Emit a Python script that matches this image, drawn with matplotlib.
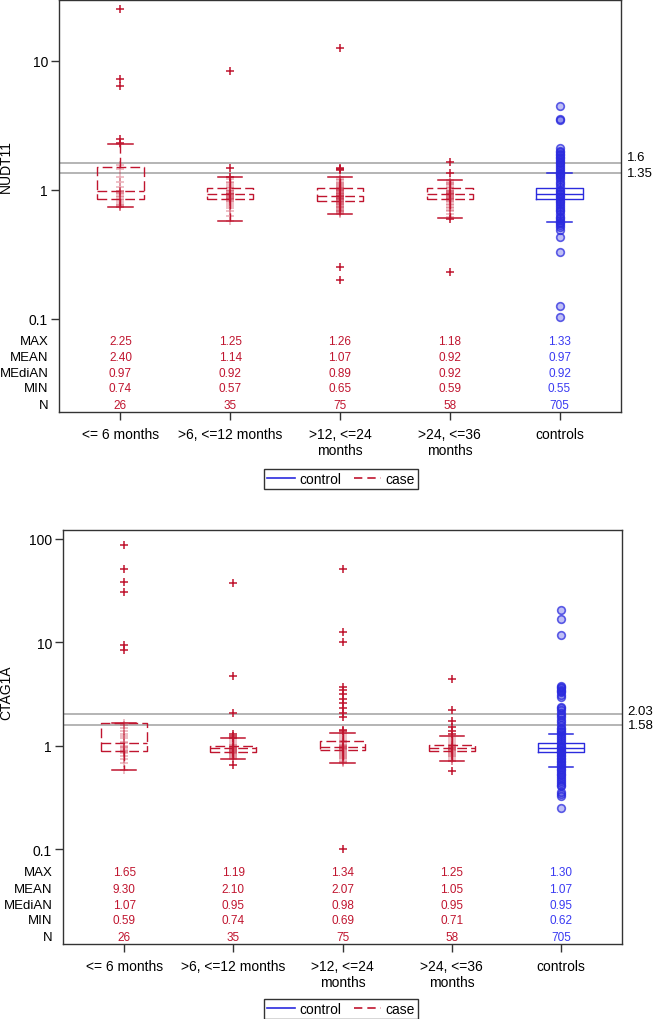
# ======================================
# BOX PLOTS - NUDT11 / CTAG1A by time to diagnosis
# ======================================

import numpy as np
import matplotlib

matplotlib.use("Agg")

import matplotlib.pyplot as plt
from matplotlib.lines import Line2D
from matplotlib.transforms import blended_transform_factory

plt.rcParams["font.family"] = ["Liberation Sans", "DejaVu Sans"]


# ======================================
# DATA
# ======================================

categories = ["<= 6 months", ">6, <=12 months", ">12, <=24\nmonths",
              ">24, <=36\nmonths", "controls"]
stat_names = ["MAX", "MEAN", "MEdiAN", "MIN", "N"]

# --- NUDT11 ---
nudt_g1 = [25.0, 7.2, 6.3, 2.45, 2.3, 2.25, 1.55, 1.45, 1.25, 1.15, 1.05, 0.98,
           0.97, 0.96, 0.94, 0.92, 0.9, 0.88, 0.85, 0.83, 0.8, 0.78, 0.76, 0.75,
           0.74, 0.74]
nudt_g2 = [8.3, 1.48, 1.26, 1.25, 1.2, 1.15, 1.12, 1.08, 1.05, 1.03, 1.0, 0.98,
           0.97, 0.95, 0.94, 0.93, 0.92, 0.92, 0.91, 0.9, 0.89, 0.88, 0.87, 0.86,
           0.85, 0.84, 0.83, 0.82, 0.8, 0.78, 0.75, 0.72, 0.68, 0.63, 0.57]
nudt_g3 = [12.4, 1.46, 1.45, 1.44, 1.43, 1.26, 1.22, 1.18, 1.15, 1.12, 1.1, 1.08,
           1.06, 1.05, 1.04, 1.03, 1.02, 1.01, 1.0, 0.99, 0.98, 0.97, 0.96, 0.95,
           0.94, 0.93, 0.92, 0.91, 0.9, 0.9, 0.89, 0.89, 0.88, 0.88, 0.87, 0.86,
           0.85, 0.85, 0.84, 0.83, 0.82, 0.82, 0.81, 0.8, 0.79, 0.78, 0.77, 0.76,
           0.75, 0.74, 0.73, 0.72, 0.71, 0.7, 0.69, 0.68, 0.67, 0.66, 0.65,
           0.25, 0.2]
nudt_g4 = [1.65, 1.35, 1.18, 1.15, 1.12, 1.1, 1.08, 1.05, 1.03, 1.0, 0.98, 0.97,
           0.96, 0.95, 0.94, 0.93, 0.92, 0.92, 0.91, 0.9, 0.89, 0.88, 0.87, 0.86,
           0.85, 0.84, 0.83, 0.82, 0.8, 0.78, 0.76, 0.74, 0.72, 0.7, 0.68, 0.65,
           0.62, 0.59, 0.23]
nudt_ctrl = [4.45, 3.55, 3.45, 2.1, 2.0, 1.95, 1.9, 1.85, 1.8, 1.75, 1.7, 1.65,
             1.6, 1.55, 1.5, 1.45, 1.4, 1.35, 1.33, 1.3, 1.25, 1.2, 1.15, 1.1,
             1.05, 1.0, 0.97, 0.95, 0.92, 0.9, 0.88, 0.85, 0.82, 0.8, 0.77, 0.75,
             0.72, 0.7, 0.68, 0.65, 0.62, 0.6, 0.58, 0.56, 0.55, 0.53, 0.51, 0.49,
             0.43, 0.33, 0.125, 0.104]

# box stats: (whisker low, q1, median, q3, whisker high)
nudt_box = [(0.74, 0.84, 0.97, 1.50, 2.25),
            (0.57, 0.84, 0.92, 1.04, 1.25),
            (0.65, 0.82, 0.89, 1.04, 1.26),
            (0.60, 0.85, 0.92, 1.03, 1.18),
            (0.56, 0.85, 0.92, 1.04, 1.34)]

nudt_max = [2.25, 1.25, 1.26, 1.18, 1.33]
nudt_mean = [2.40, 1.14, 1.07, 0.92, 0.97]
nudt_median = [0.97, 0.92, 0.89, 0.92, 0.92]
nudt_min = [0.74, 0.57, 0.65, 0.59, 0.55]
nudt_n = [26, 35, 75, 58, 705]
nudt_refs = [1.6, 1.35]

# --- CTAG1A ---
ctag_g1 = [88.0, 51.0, 38.5, 31.0, 9.5, 8.4, 1.65, 1.6, 1.5, 1.4, 1.3, 1.25, 1.2,
           1.1, 1.07, 1.0, 0.97, 0.95, 0.92, 0.9, 0.88, 0.85, 0.8, 0.75, 0.68, 0.59]
ctag_g2 = [37.5, 4.75, 2.08, 1.3, 1.25, 1.2, 1.19, 1.15, 1.1, 1.05, 1.02, 1.0,
           0.98, 0.97, 0.96, 0.95, 0.94, 0.93, 0.92, 0.91, 0.9, 0.89, 0.88, 0.87,
           0.86, 0.85, 0.84, 0.82, 0.8, 0.78, 0.76, 0.74, 0.66]
ctag_g3 = [51.0, 12.7, 10.0, 3.75, 3.5, 3.2, 2.85, 2.6, 2.35, 2.1, 1.9, 1.44, 1.38,
           1.34, 1.3, 1.25, 1.2, 1.15, 1.12, 1.1, 1.08, 1.05, 1.03, 1.0, 0.99,
           0.98, 0.97, 0.96, 0.95, 0.94, 0.93, 0.92, 0.9, 0.88, 0.86, 0.84, 0.82,
           0.8, 0.78, 0.76, 0.74, 0.72, 0.7, 0.69, 0.1]
ctag_g4 = [4.45, 2.22, 1.76, 1.53, 1.4, 1.3, 1.25, 1.2, 1.15, 1.1, 1.05, 1.03, 1.0,
           0.98, 0.97, 0.96, 0.95, 0.94, 0.93, 0.92, 0.91, 0.9, 0.88, 0.86, 0.84,
           0.82, 0.8, 0.78, 0.75, 0.72, 0.71, 0.57]
ctag_ctrl = [20.5, 16.9, 11.8, 3.8, 3.7, 3.6, 3.5, 3.4, 3.3, 3.1, 2.97, 2.4, 2.3,
             2.2, 2.1, 2.0, 1.9, 1.8, 1.7, 1.6, 1.5, 1.45, 1.4, 1.35, 1.3, 1.25,
             1.2, 1.15, 1.1, 1.05, 1.0, 0.97, 0.95, 0.92, 0.9, 0.87, 0.85, 0.82,
             0.8, 0.77, 0.75, 0.72, 0.7, 0.67, 0.65, 0.62, 0.6, 0.58, 0.56, 0.54,
             0.52, 0.5, 0.48, 0.46, 0.44, 0.42, 0.41, 0.36, 0.34, 0.33, 0.25]

ctag_box = [(0.59, 0.90, 1.07, 1.65, 1.65),
            (0.74, 0.88, 0.95, 1.00, 1.19),
            (0.69, 0.92, 0.98, 1.12, 1.34),
            (0.71, 0.90, 0.95, 1.02, 1.25),
            (0.63, 0.88, 0.95, 1.07, 1.30)]

ctag_max = [1.65, 1.19, 1.34, 1.25, 1.30]
ctag_mean = [9.30, 2.10, 2.07, 1.05, 1.07]
ctag_median = [1.07, 0.95, 0.98, 0.95, 0.95]
ctag_min = [0.59, 0.74, 0.69, 0.71, 0.62]
ctag_n = [26, 35, 75, 58, 705]
ctag_refs = [2.03, 1.58]


# ======================================
# STYLE
# ======================================

RED = "#C0152F"
BLUE = "#2B2BDE"
BLUE_TXT = "#3A3AF2"
GREY = "#A8A8A8"
FRAME = "#333333"
DASH = (0, (7, 3))


def draw_panel(ax, groups, boxes, stats, refs, ref_dy, ylim, yticks, yticklabels):
    pos = np.arange(1, 6)

    # reference lines
    for r, dy in zip(refs, ref_dy):
        ax.axhline(r, color=GREY, lw=1.2, zorder=1)
        ax.annotate(f"{r:g}", xy=(1, r), xycoords=("axes fraction", "data"),
                    xytext=(4, dy), textcoords="offset points",
                    va="center", ha="left", fontsize=9.5, annotation_clip=False)

    # boxes
    bstats = [dict(whislo=b[0], q1=b[1], med=b[2], q3=b[3], whishi=b[4])
              for b in boxes]
    ax.bxp(bstats[:4], positions=pos[:4], widths=0.42, capwidths=0.22,
           showfliers=False, manage_ticks=False,
           boxprops=dict(color=RED, lw=1, linestyle=DASH),
           whiskerprops=dict(color=RED, lw=1, linestyle=DASH),
           capprops=dict(color=RED, lw=1.1),
           medianprops=dict(color=RED, lw=1, linestyle=DASH), zorder=3)
    ax.bxp(bstats[4:], positions=pos[4:], widths=0.42, capwidths=0.22,
           showfliers=False, manage_ticks=False,
           boxprops=dict(color=BLUE, lw=1),
           whiskerprops=dict(color=BLUE, lw=1),
           capprops=dict(color=BLUE, lw=1.1),
           medianprops=dict(color=BLUE, lw=1), zorder=3)

    # points
    for i, vals in enumerate(groups):
        v = np.array(vals)
        lo, hi = boxes[i][0], boxes[i][4]
        out = (v < lo * 0.999) | (v > hi * 1.001)
        x = np.full(len(v), pos[i], dtype=float)
        if i < 4:
            ax.plot(x[~out], v[~out], "+", color=RED, ms=6, mew=1.1,
                    alpha=0.35, zorder=4)
            ax.plot(x[out], v[out], "+", color=RED, ms=6, mew=1.1, zorder=4)
        else:
            ax.plot(x, v, "o", ms=5.5, mew=1.2, mec=(0.17, 0.17, 0.87, 0.75),
                    mfc=(0.17, 0.17, 0.87, 0.3), ls="none", zorder=4)

    ax.set_yscale("log")
    ax.set_ylim(*ylim)
    ax.set_xlim(0.44, 5.56)
    ax.set_yticks(yticks)
    ax.set_yticklabels(yticklabels)
    ax.yaxis.set_minor_locator(matplotlib.ticker.NullLocator())
    ax.set_xticks(pos)
    ax.set_xticklabels(categories, fontsize=10, linespacing=1.2)
    ax.tick_params(axis="y", labelsize=10, length=6, width=1, color=FRAME, pad=2)
    ax.tick_params(axis="x", length=6, width=1, color=FRAME, pad=5)
    for sp in ax.spines.values():
        sp.set_color(FRAME)
        sp.set_linewidth(1)

    # statistics table inside the axes
    row_y = [0.173, 0.133, 0.095, 0.057, 0.018]
    trans = blended_transform_factory(ax.transData, ax.transAxes)
    for name, ry, row in zip(stat_names, row_y, stats):
        ax.text(-0.019, ry, name, transform=ax.transAxes, ha="right",
                va="center", fontsize=9.5)
        for j, val in enumerate(row):
            txt = str(val) if name == "N" else f"{val:.2f}"
            ax.text(pos[j], ry, txt, transform=trans, ha="center", va="center",
                    fontsize=8.5, color=RED if j < 4 else BLUE_TXT)


# ======================================
# FIGURE
# ======================================

fig = plt.figure(figsize=(6.53, 10.2), dpi=100)

ax1 = fig.add_axes([59 / 653, 607 / 1020, 562 / 653, 412.5 / 1020])
draw_panel(ax1, [nudt_g1, nudt_g2, nudt_g3, nudt_g4, nudt_ctrl], nudt_box,
           [nudt_max, nudt_mean, nudt_median, nudt_min, nudt_n],
           nudt_refs, [4.5, 0], (0.019, 29.7), [0.1, 1, 10], ["0.1", "1", "10"])

ax2 = fig.add_axes([63 / 653, 75 / 1020, 559 / 653, 414 / 1020])
draw_panel(ax2, [ctag_g1, ctag_g2, ctag_g3, ctag_g4, ctag_ctrl], ctag_box,
           [ctag_max, ctag_mean, ctag_median, ctag_min, ctag_n],
           ctag_refs, [2, 0], (0.0122, 122), [0.1, 1, 10, 100],
           ["0.1", "1", "10", "100"])

fig.text(6 / 653, 1 - 167 / 1020, "NUDT11", rotation=90, ha="center",
         va="center", fontsize=10)
fig.text(6 / 653, 1 - 693 / 1020, "CTAG1A", rotation=90, ha="center",
         va="center", fontsize=10)

handles = [Line2D([], [], color=BLUE, lw=1.2),
           Line2D([], [], color=RED, lw=1.2, linestyle=(0, (5, 3)))]
for yc in [1 - 480 / 1020, 1 - 1010 / 1020]:
    fig.legend(handles, ["control", "case"], loc="center",
               bbox_to_anchor=(341 / 653, yc), ncol=2, fontsize=10,
               frameon=True, fancybox=False, edgecolor=FRAME, framealpha=1,
               borderpad=0.2, borderaxespad=0, handlelength=2.0,
               handletextpad=0.3, columnspacing=0.9)

plt.savefig("out.png", dpi=100)
